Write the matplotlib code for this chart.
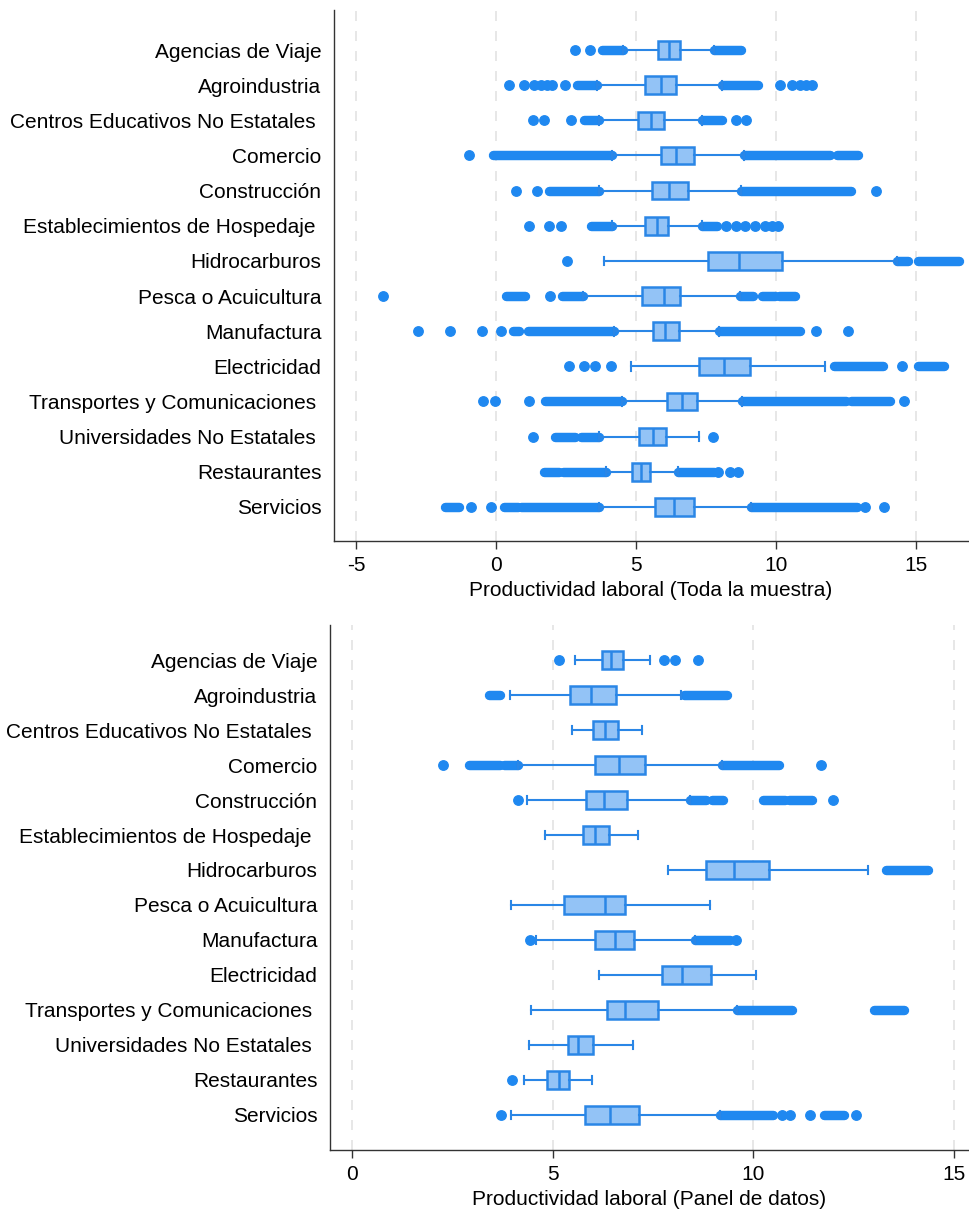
import matplotlib
matplotlib.use("Agg")
import matplotlib.pyplot as plt

plt.rcParams['font.family'] = ['Liberation Sans', 'DejaVu Sans']

# Categories (top to bottom)
sectors = ["Agencias de Viaje", "Agroindustria", "Centros Educativos No Estatales ",
           "Comercio", "Construcción", "Establecimientos de Hospedaje ", "Hidrocarburos",
           "Pesca o Acuicultura", "Manufactura", "Electricidad",
           "Transportes y Comunicaciones ", "Universidades No Estatales ",
           "Restaurantes", "Servicios"]

# ---- Panel 1: Toda la muestra ----
top_q1 = [5.78, 5.30, 5.08, 5.88, 5.56, 5.33, 7.56, 5.22, 5.62, 7.26, 6.10, 5.12, 4.86, 5.66]
top_med = [6.17, 5.88, 5.54, 6.43, 6.17, 5.73, 8.68, 6.00, 6.03, 8.14, 6.64, 5.59, 5.19, 6.35]
top_q3 = [6.56, 6.43, 5.98, 7.05, 6.87, 6.14, 10.22, 6.58, 6.54, 9.06, 7.19, 6.05, 5.51, 7.05]
top_wlo = [4.54, 3.62, 3.69, 4.13, 3.69, 4.13, 3.84, 3.11, 4.20, 4.83, 4.49, 3.69, 3.91, 3.66]
top_whi = [7.77, 8.06, 7.34, 8.87, 8.76, 7.37, 14.33, 8.72, 7.95, 11.74, 8.79, 7.26, 6.49, 9.09]
# isolated outliers
top_out = [
    [2.82, 3.36],
    [0.46, 1.00, 1.36, 1.60, 1.80, 2.01, 2.45, 10.15, 10.55, 10.85, 11.05, 11.27],
    [1.32, 1.72, 2.67, 8.55, 8.94],
    [-0.97],
    [0.70, 1.46, 13.57],
    [1.18, 1.90, 2.31, 8.20, 8.55, 8.90, 9.25, 9.60, 9.85, 10.08],
    [2.53],
    [-4.03, 1.94],
    [-2.79, -1.63, -0.51, 0.19, 11.42, 12.56],
    [2.60, 3.14, 3.52, 4.10, 14.48],
    [-0.46, -0.03, 1.17, 14.55],
    [1.32, 7.73],
    [7.92, 8.35, 8.65],
    [-0.90, -0.20, 13.17, 13.85],
]
# runs of overlapping outliers (from, to)
top_runs = [
    [(3.77, 4.54), (7.77, 8.76)],
    [(2.89, 3.62), (8.06, 9.37)],
    [(3.14, 3.69), (7.34, 8.06)],
    [(-0.10, 4.13), (8.87, 11.93), (12.19, 12.92)],
    [(1.90, 3.69), (8.76, 12.66)],
    [(3.40, 4.13), (7.37, 7.90)],
    [(14.33, 14.70), (15.06, 16.52)],
    [(0.34, 1.04), (2.35, 3.11), (8.72, 9.16), (9.50, 9.96), (10.11, 10.69)],
    [(0.60, 0.81), (1.14, 4.20), (7.95, 10.84)],
    [(12.08, 13.83), (15.06, 16.01)],
    [(1.75, 4.49), (8.79, 12.51), (12.66, 14.05)],
    [(2.09, 2.82), (3.04, 3.69)],
    [(1.72, 2.23), (2.38, 3.91), (6.49, 7.77)],
    [(-1.82, -1.34), (0.27, 0.78), (0.89, 3.66), (9.09, 12.88)],
]
top_ticks = [-5, 0, 5, 10, 15]

# ---- Panel 2: Panel de datos ----
bot_q1 = [6.24, 5.44, 6.02, 6.07, 5.84, 5.76, 8.82, 5.29, 6.07, 7.72, 6.35, 5.39, 4.85, 5.80]
bot_med = [6.47, 5.97, 6.30, 6.66, 6.29, 6.07, 9.53, 6.32, 6.56, 8.22, 6.80, 5.63, 5.15, 6.44]
bot_q3 = [6.76, 6.58, 6.63, 7.31, 6.86, 6.40, 10.40, 6.80, 7.04, 8.94, 7.63, 6.02, 5.41, 7.15]
bot_wlo = [5.56, 3.94, 5.48, 4.13, 4.36, 4.80, 7.88, 3.96, 4.59, 6.17, 4.47, 4.41, 4.29, 3.97]
bot_whi = [7.42, 8.20, 7.24, 9.22, 8.43, 7.14, 12.87, 8.92, 8.56, 10.08, 9.61, 7.00, 5.98, 9.17]
bot_out = [
    [5.17, 7.78, 8.05, 8.63],
    [],
    [],
    [2.26, 11.70],
    [4.13, 11.99],
    [],
    [],
    [],
    [4.44, 9.58],
    [],
    [],
    [],
    [3.99],
    [3.71, 10.73, 10.93, 11.42, 12.58],
]
bot_runs = [
    [],
    [(3.42, 3.68), (8.29, 9.34)],
    [],
    [(2.91, 3.68), (3.78, 4.13), (9.22, 10.65)],
    [(8.43, 8.82), (8.97, 9.25), (10.24, 10.80), (10.90, 11.46)],
    [],
    [(13.32, 14.36)],
    [],
    [(8.56, 9.43)],
    [],
    [(9.61, 10.97), (13.01, 13.77)],
    [],
    [],
    [(9.17, 10.50), (11.77, 12.28)],
]
bot_ticks = [0, 5, 10, 15]

edge_col = '#2a86e6'
fill_col = '#93c3f6'
dot_col = '#1f88f0'


def draw_panel(ax, q1, med, q3, wlo, whi, outs, runs, ticks, xlim, ylim, xlabel):
    stats = []
    for i in range(len(sectors)):
        stats.append(dict(med=med[i], q1=q1[i], q3=q3[i], whislo=wlo[i],
                          whishi=whi[i], fliers=outs[i]))
    pos = list(range(1, len(sectors) + 1))
    # dense outlier runs drawn first, behind boxes
    for p, rr in zip(pos, runs):
        for lo, hi in rr:
            ax.plot([lo, hi], [p, p], color=dot_col, lw=6.8,
                    solid_capstyle='round', zorder=2)
    ax.bxp(stats, positions=pos, orientation='horizontal', widths=0.5,
           patch_artist=True, manage_ticks=False,
           boxprops=dict(facecolor=fill_col, edgecolor=edge_col, linewidth=1.8),
           medianprops=dict(color=edge_col, linewidth=1.8),
           whiskerprops=dict(color=edge_col, linewidth=1.5),
           capprops=dict(color=edge_col, linewidth=1.5),
           flierprops=dict(marker='o', markerfacecolor=dot_col,
                           markeredgecolor=dot_col, markersize=6.8),
           zorder=3)
    ax.set_yticks(pos)
    ax.set_yticklabels(sectors, fontsize=15)
    ax.set_xticks(ticks)
    ax.set_xticklabels([str(t) for t in ticks], fontsize=15)
    ax.set_xlim(*xlim)
    ax.set_ylim(*ylim)
    ax.tick_params(axis='y', length=0, pad=9)
    ax.tick_params(axis='x', length=6, width=1, pad=5, color='#333333')
    for t in ticks:
        ax.axvline(t, color='#e3e3e3', lw=1.2, ls=(0, (6, 6)), zorder=0)
    for s in ['top', 'right']:
        ax.spines[s].set_visible(False)
    for s in ['left', 'bottom']:
        ax.spines[s].set_color('#333333')
        ax.spines[s].set_linewidth(1.0)
    ax.set_xlabel(xlabel, fontsize=15, labelpad=4)


fig = plt.figure(figsize=(9.70, 12.16), dpi=100)

ax1 = fig.add_axes([0.3443, 0.5551, 0.6536, 0.4367])
draw_panel(ax1, top_q1, top_med, top_q3, top_wlo, top_whi, top_out, top_runs,
           top_ticks, (-5.79, 16.85), (14.97, -0.14),
           "Productividad laboral (Toda la muestra)")

ax2 = fig.add_axes([0.3402, 0.0543, 0.6577, 0.4317])
draw_panel(ax2, bot_q1, bot_med, bot_q3, bot_wlo, bot_whi, bot_out, bot_runs,
           bot_ticks, (-0.55, 15.36), (15.0, 0.0),
           "Productividad laboral (Panel de datos)")

fig.savefig("out.png", dpi=100)
